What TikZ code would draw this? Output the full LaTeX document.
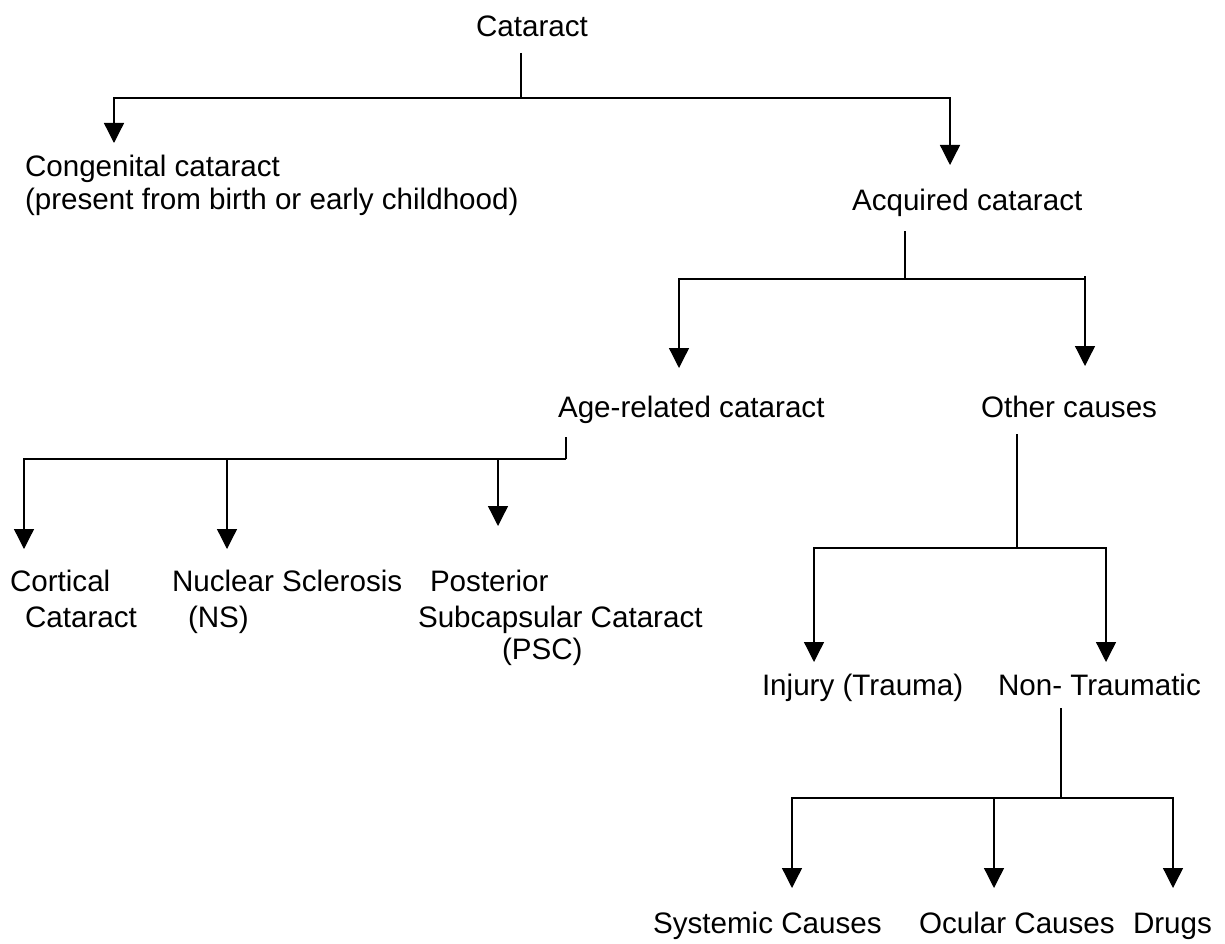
\documentclass[tikz,border=0pt]{standalone}
\usepackage{fontspec}
\setmainfont{Liberation Sans}
\usetikzlibrary{arrows.meta}
\begin{document}
\begin{tikzpicture}[x=1pt,y=-1pt,
  lbl/.style={anchor=base west,inner sep=0pt,outer sep=0pt,font=\fontsize{29.6}{35}\selectfont},
  link/.style={line width=1.3pt,black},
  arr/.style={link,-{Triangle[width=20pt,length=20pt]}}]
\fill[white] (0,0) rectangle (1225,944);
\useasboundingbox (0,0) rectangle (1225,944);
% labels
\node[lbl] (cat) at (476,37) {Cataract};
\node[lbl] (cong) at (25,177) {Congenital cataract};
\node[lbl] (congb) at (25,209) {(present from birth or early childhood)};
\node[lbl] (acq) at (852,211) {Acquired cataract};
\node[lbl] (age) at (558,417) {Age-related cataract};
\node[lbl] (oth) at (981,417) {Other causes};
\node[lbl] (cort) at (10,591) {Cortical};
\node[lbl] (cortb) at (25,627) {Cataract};
\node[lbl] (nuc) at (172,591) {Nuclear Sclerosis};
\node[lbl] (nucb) at (188,627) {(NS)};
\node[lbl] (post) at (430,591) {Posterior};
\node[lbl] (postb) at (418,627) {Subcapsular Cataract};
\node[lbl] (postc) at (502,659) {(PSC)};
\node[lbl] (inj) at (762,695) {Injury (Trauma)};
\node[lbl] (non) at (998,695) {Non- Traumatic};
\node[lbl] (sys) at (653,933) {Systemic Causes};
\node[lbl] (ocu) at (919,933) {Ocular Causes};
\node[lbl] (drg) at (1133,933) {Drugs};
% connector coordinates
\coordinate (catS) at (521,53);
\coordinate (catJ) at (521,98);
\coordinate (congT) at (114,143);
\coordinate (acqT) at (950,165);
\coordinate (acqS) at (905,231);
\coordinate (acqJ) at (905,279);
\coordinate (ageT) at (679,368);
\coordinate (othT) at (1085,366);
\coordinate (othK) at (1085,276);
\coordinate (ageS) at (566,437);
\coordinate (ageJ) at (566,459);
\coordinate (cortT) at (24,549);
\coordinate (nucT) at (227,549);
\coordinate (postT) at (498,526);
\coordinate (othS) at (1017,434);
\coordinate (othJ) at (1017,548);
\coordinate (injT) at (814,662);
\coordinate (nonT) at (1106,662);
\coordinate (nonS) at (1061,708);
\coordinate (nonJ) at (1061,798);
\coordinate (sysT) at (792,888);
\coordinate (ocuT) at (994,888);
\coordinate (drgT) at (1173,888);
% connectors
\draw[link] (catS) -- (catJ);
\draw[arr] (catJ) -| (congT);
\draw[arr] (catJ) -| (acqT);
\draw[link] (acqS) -- (acqJ);
\draw[arr] (acqJ) -| (ageT);
\draw[arr] (acqJ) -| (othT);
\draw[link] (othK) -- (othK |- acqJ);
\draw[link] (ageS) -- (ageJ);
\draw[arr] (ageJ) -| (cortT);
\draw[arr] (ageJ) -| (nucT);
\draw[arr] (ageJ) -| (postT);
\draw[link] (othS) -- (othJ);
\draw[arr] (othJ) -| (injT);
\draw[arr] (othJ) -| (nonT);
\draw[link] (nonS) -- (nonJ);
\draw[arr] (nonJ) -| (sysT);
\draw[arr] (nonJ) -| (ocuT);
\draw[arr] (nonJ) -| (drgT);
\end{tikzpicture}
\end{document}
